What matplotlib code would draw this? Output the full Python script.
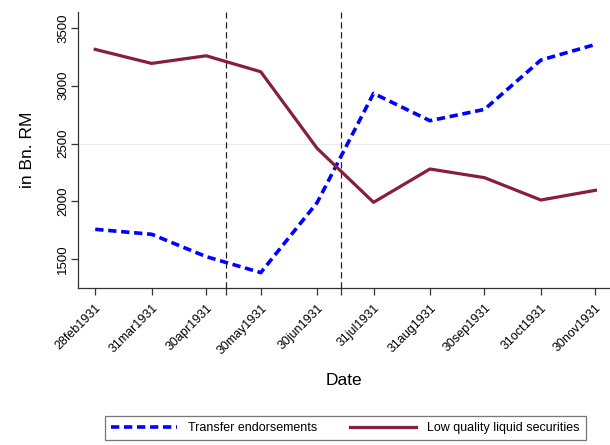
import matplotlib
matplotlib.use("Agg")
import matplotlib.pyplot as plt
import numpy as np
from datetime import datetime, timedelta

plt.rcParams['font.family'] = ['Liberation Sans', 'DejaVu Sans']

# Month-end observations, 1931
dates = ["1931-02-28", "1931-03-31", "1931-04-30", "1931-05-30", "1931-06-30",
         "1931-07-31", "1931-08-31", "1931-09-30", "1931-10-31", "1931-11-30"]
tick_labels = ["28feb1931", "31mar1931", "30apr1931", "30may1931", "30jun1931",
               "31jul1931", "31aug1931", "30sep1931", "31oct1931", "30nov1931"]
transfer_endorsements = [1759, 1716, 1523, 1385, 1990, 2933, 2697, 2795, 3221, 3356]
low_quality_securities = [3313, 3192, 3258, 3120, 2458, 1992, 2280, 2205, 2012, 2096]
event_dates = ["1931-05-11", "1931-07-13"]
y_ticks = [1500, 2000, 2500, 3000, 3500]

x = [datetime.strptime(d, "%Y-%m-%d") for d in dates]
events = [datetime.strptime(d, "%Y-%m-%d") for d in event_dates]

fig = plt.figure(figsize=(6.1, 4.45), dpi=100)
ax = fig.add_axes([0.1275, 0.3528, 0.8725, 0.6202])

ax.axhline(2500, color="#ececec", lw=0.8, zorder=0)

ax.plot(x, transfer_endorsements, color="#0000ff", lw=2.6,
        dashes=(2.3, 1.3), dash_capstyle="butt",
        label="Transfer endorsements", zorder=3)
ax.plot(x, low_quality_securities, color="#86203a", lw=2.3,
        label="Low quality liquid securities", zorder=3)

for ev in events:
    ax.axvline(ev, color="#222222", lw=0.9, dashes=(5, 3), zorder=2)

ax.set_xlim(x[0] - timedelta(days=9.6), x[-1] + timedelta(days=8))
ax.set_ylim(1252, 3636)

ax.set_xticks(x + events)
ax.set_xticklabels(tick_labels + ["", ""], rotation=45, ha="right",
                   rotation_mode="anchor", fontsize=9)
ax.set_yticks(y_ticks)
ax.set_yticklabels([str(v) for v in y_ticks], rotation=90, va="center", fontsize=9.5)

ax.tick_params(axis="both", direction="out", length=5, width=0.9, color="#333333")
ax.tick_params(axis="x", pad=5)
ax.tick_params(axis="y", pad=1)

for s in ["top", "right"]:
    ax.spines[s].set_visible(False)
for s in ["left", "bottom"]:
    ax.spines[s].set_color("#333333")
    ax.spines[s].set_linewidth(0.9)

ax.set_xlabel("Date", fontsize=12.5, labelpad=12)
ax.set_ylabel("in Bn. RM", fontsize=12.5, labelpad=16)

leg = fig.legend(loc="center", bbox_to_anchor=(0.566, 0.038), ncol=2,
                 fontsize=9, frameon=True, fancybox=False, edgecolor="#555555",
                 handlelength=5.3, handletextpad=0.9, columnspacing=2.6,
                 borderpad=0.45)
leg.get_frame().set_linewidth(0.9)

fig.savefig("out.png", dpi=100)
